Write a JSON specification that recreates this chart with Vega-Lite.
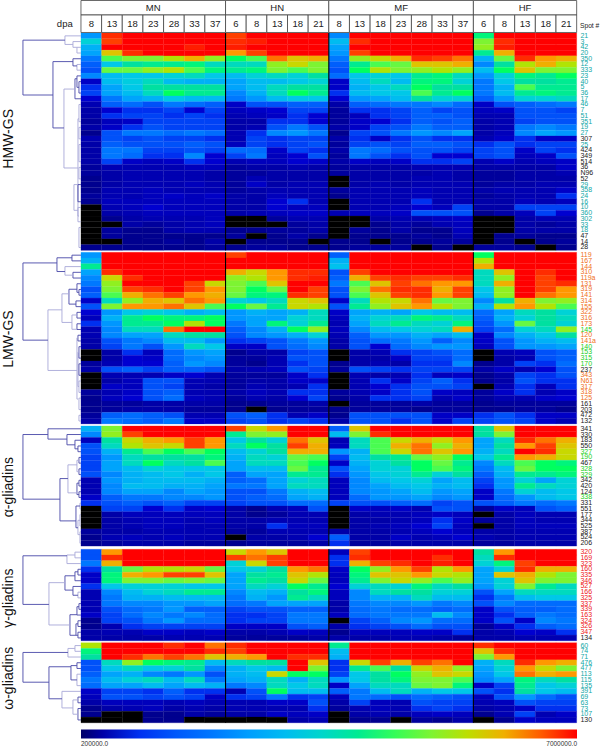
{"$schema":"https://vega.github.io/schema/vega-lite/v6.json","width":600,"height":747,"padding":0,"autosize":{"type":"none"},"background":"white","config":{"view":{"stroke":null},"text":{"font":"Liberation Sans"},"legend":{"labelFont":"Liberation Sans"}},
"datasets":{"cells":[
{"g":0,"s":"21","k":"t","v":[24,68,70,70,70,70,70,66,70,70,70,70,22,70,70,70,70,70,70,42,70,70,70,70]},
{"g":0,"s":"3","k":"t","v":[34,66,70,70,70,70,70,68,69,70,70,70,30,68,70,70,70,70,70,50,68,70,70,70]},
{"g":0,"s":"42","k":"t","v":[28,70,70,70,70,69,70,69,70,70,70,70,26,70,70,70,70,70,70,52,69,70,70,70]},
{"g":0,"s":"20","k":"t","v":[26,58,68,70,70,70,70,62,66,70,70,70,24,66,70,70,70,70,70,40,60,70,70,70]},
{"g":0,"s":"350","k":"t","v":[20,46,50,50,54,60,52,44,46,64,58,60,20,52,56,60,68,66,64,28,48,68,62,60]},
{"g":0,"s":"12","k":"t","v":[16,32,38,40,40,42,36,36,36,52,56,50,16,40,46,48,58,58,60,22,38,54,60,54]},
{"g":0,"s":"333","k":"t","v":[14,48,48,52,54,46,42,40,42,50,46,50,14,44,54,50,52,54,52,30,44,58,50,50]},
{"g":0,"s":"23","k":"t","v":[22,30,32,32,34,36,32,30,34,36,34,38,18,32,34,32,40,42,36,24,34,42,40,44]},
{"g":0,"s":"40","k":"t","v":[8,30,33,36,30,28,28,26,30,30,32,34,8,30,36,30,42,42,34,20,32,38,38,40]},
{"g":0,"s":"5","k":"t","v":[10,26,32,38,38,38,38,26,30,36,38,38,8,28,32,36,44,38,38,20,28,46,40,40]},
{"g":0,"s":"36","k":"t","v":[12,26,30,36,44,40,40,22,28,36,44,40,10,30,32,32,46,40,44,20,30,40,42,40]},
{"g":0,"s":"17","k":"t","v":[9,20,26,28,32,30,30,20,24,30,32,32,9,24,26,30,38,34,34,16,24,34,34,36]},
{"g":0,"s":"46","k":"t","v":[6,16,18,14,20,18,16,8,14,14,16,16,5,16,18,20,20,22,18,8,14,16,18,20]},
{"g":0,"s":"7","k":"t","v":[5,9,10,10,12,9,12,7,8,9,12,12,4,10,10,12,16,12,14,7,8,14,14,12]},
{"g":0,"s":"51","k":"t","v":[5,10,12,12,10,12,10,6,7,8,10,9,4,7,10,12,16,16,14,6,6,14,14,14]},
{"g":0,"s":"351","k":"t","v":[4,7,8,12,12,12,12,5,5,10,10,9,4,8,9,10,16,14,16,5,6,12,14,14]},
{"g":0,"s":"19","k":"t","v":[5,8,10,14,12,12,12,5,6,14,20,14,5,8,12,14,20,16,16,5,6,20,22,20]},
{"g":0,"s":"27","k":"t","v":[3,14,20,20,18,20,18,6,10,22,24,20,3,12,14,20,24,22,26,5,7,22,26,24]},
{"g":0,"s":"307","k":"k","v":[6,14,12,14,12,12,10,6,12,10,12,12,5,10,8,10,14,10,10,6,8,10,8,8]},
{"g":0,"s":"25","k":"t","v":[5,16,14,14,14,16,14,7,12,10,12,14,4,12,14,12,16,16,14,10,14,10,12,12]},
{"g":0,"s":"424","k":"k","v":[5,20,20,12,12,14,12,18,18,8,12,10,5,20,18,14,14,14,12,12,14,8,12,10]},
{"g":0,"s":"349","k":"k","v":[5,20,18,10,10,22,9,12,20,7,9,14,4,20,14,10,14,9,9,12,14,7,8,14]},
{"g":0,"s":"514","k":"k","v":[5,12,8,7,8,10,9,6,7,7,9,8,5,8,7,8,10,10,12,6,8,6,7,8]},
{"g":0,"s":"36","k":"k","v":[4,6,6,6,6,7,7,4,5,5,6,5,4,5,5,5,6,6,6,5,5,5,5,8]},
{"g":0,"s":"N96","k":"k","v":[4,5,6,6,6,6,5,4,4,5,5,5,4,5,5,5,5,6,5,4,4,5,5,6]},
{"g":0,"s":"52","k":"k","v":[3,5,6,6,6,6,5,4,6,5,5,5,2,5,5,5,6,6,5,4,4,5,5,5]},
{"g":0,"s":"29","k":"t","v":[3,5,6,6,6,7,6,4,8,5,6,6,2,5,6,5,6,6,6,4,5,5,6,6]},
{"g":0,"s":"358","k":"t","v":[3,6,6,7,6,6,6,4,5,6,6,6,4,6,6,6,7,6,6,5,6,6,6,8]},
{"g":0,"s":"24","k":"t","v":[4,6,6,7,8,7,8,5,5,7,6,6,3,6,6,6,7,6,6,4,5,6,6,10]},
{"g":0,"s":"16","k":"t","v":[3,7,7,7,7,7,7,5,5,9,10,6,2,6,6,6,10,6,6,5,5,7,6,7]},
{"g":0,"s":"10","k":"t","v":[2,6,7,9,7,7,7,5,5,9,7,7,2,6,6,7,9,7,12,5,5,12,12,12]},
{"g":0,"s":"360","k":"t","v":[2,5,6,7,7,7,7,5,6,7,8,8,6,7,7,8,14,14,14,3,5,7,12,9]},
{"g":0,"s":"302","k":"t","v":[2,3,5,6,6,6,7,2,2,4,6,6,2,2,5,6,6,7,8,2,2,5,6,6]},
{"g":0,"s":"33","k":"t","v":[2,2,5,4,5,6,7,2,2,2,4,5,2,2,3,5,4,6,7,2,2,5,4,5]},
{"g":0,"s":"18","k":"t","v":[2,4,3,3,5,6,6,3,3,4,4,5,2,4,3,5,3,3,7,2,2,5,5,5]},
{"g":0,"s":"47","k":"k","v":[2,4,3,3,3,3,3,4,2,3,5,3,2,3,3,3,4,3,6,2,3,4,3,3]},
{"g":0,"s":"14","k":"k","v":[2,2,3,3,4,3,5,2,3,3,3,2,3,3,2,3,3,4,4,2,3,2,3,4]},
{"g":0,"s":"28","k":"k","v":[3,3,3,3,3,3,4,3,4,4,3,3,3,4,4,4,2,3,2,4,4,3,2,3]},
{"g":1,"s":"119","k":"o","v":[24,70,70,70,70,70,70,66,70,70,70,70,16,70,70,70,70,70,70,44,70,70,70,70]},
{"g":1,"s":"167","k":"o","v":[28,70,70,70,70,70,70,70,70,70,70,70,28,70,70,70,70,70,70,54,70,70,70,70]},
{"g":1,"s":"144","k":"o","v":[40,70,70,70,70,70,70,70,70,70,70,70,31,70,70,70,70,70,70,60,70,70,70,70]},
{"g":1,"s":"310","k":"o","v":[26,68,70,70,70,70,70,60,56,62,68,68,14,66,70,70,70,70,70,36,58,70,68,70]},
{"g":1,"s":"119a","k":"o","v":[22,56,68,70,70,70,70,52,54,62,68,69,16,60,66,68,66,66,68,36,52,70,66,70]},
{"g":1,"s":"131","k":"o","v":[20,52,70,70,70,66,56,50,46,58,70,70,20,46,58,66,64,62,62,36,60,70,66,68]},
{"g":1,"s":"319","k":"o","v":[14,50,66,68,70,66,62,50,44,48,70,66,14,50,64,68,68,60,66,32,52,70,66,62]},
{"g":1,"s":"141","k":"o","v":[16,46,60,64,66,62,60,48,42,42,68,66,14,46,58,66,68,62,66,30,52,70,64,62]},
{"g":1,"s":"314","k":"o","v":[8,36,52,60,58,64,62,34,32,36,56,58,8,36,54,56,64,48,50,22,38,60,50,52]},
{"g":1,"s":"155","k":"o","v":[14,50,62,62,64,58,46,44,48,40,56,54,14,40,52,58,62,54,50,28,54,62,54,46]},
{"g":1,"s":"322","k":"o","v":[9,24,32,34,32,28,30,24,28,26,28,36,8,26,28,26,32,30,30,18,26,36,38,34]},
{"g":1,"s":"316","k":"o","v":[7,28,40,44,42,42,44,24,26,26,34,36,7,28,34,36,42,40,36,16,28,34,38,36]},
{"g":1,"s":"173","k":"o","v":[10,24,40,40,44,54,44,20,26,42,34,40,6,26,36,40,36,34,42,14,24,48,38,34]},
{"g":1,"s":"145","k":"g","v":[6,22,36,36,64,70,70,16,22,28,44,52,7,22,30,32,34,36,60,12,18,34,36,52]},
{"g":1,"s":"120","k":"o","v":[6,22,26,26,36,38,38,14,22,24,28,34,6,16,24,24,28,26,30,8,22,28,32,38]},
{"g":1,"s":"141a","k":"o","v":[5,14,20,22,30,30,24,10,12,14,20,24,5,14,18,20,24,16,22,8,14,24,28,30]},
{"g":1,"s":"140","k":"g","v":[5,12,20,14,24,36,32,8,8,14,18,22,5,14,9,18,22,24,24,7,14,24,24,26]},
{"g":1,"s":"153","k":"g","v":[2,5,10,7,18,24,26,3,5,5,12,14,2,5,6,10,12,14,18,2,6,7,14,16]},
{"g":1,"s":"315","k":"g","v":[2,5,9,8,18,22,24,4,4,6,14,14,2,5,5,8,12,12,18,2,5,6,14,16]},
{"g":1,"s":"170","k":"g","v":[4,6,9,9,16,24,22,4,3,6,10,14,3,5,6,5,10,10,22,3,5,12,10,18]},
{"g":1,"s":"237","k":"k","v":[5,14,16,12,16,16,14,5,6,7,14,12,4,14,12,10,12,12,12,5,8,6,9,14]},
{"g":1,"s":"343","k":"o","v":[2,6,6,6,8,9,6,4,4,4,8,10,2,6,5,6,10,7,8,3,5,12,10,14]},
{"g":1,"s":"N61","k":"o","v":[2,5,7,14,14,6,6,4,5,5,8,8,2,6,10,8,12,16,10,3,5,14,10,10]},
{"g":1,"s":"317","k":"o","v":[2,8,7,14,12,6,5,4,6,5,6,10,2,6,9,10,14,14,12,2,6,10,7,10]},
{"g":1,"s":"318","k":"o","v":[4,6,8,14,16,6,6,5,7,6,10,10,4,6,8,10,14,8,7,4,8,10,6,8]},
{"g":1,"s":"125","k":"o","v":[3,7,9,14,18,7,6,4,6,5,9,12,3,5,10,10,12,6,8,4,6,6,8,9]},
{"g":1,"s":"161","k":"k","v":[3,4,4,5,5,5,5,3,3,4,4,5,2,4,4,4,5,4,4,3,4,4,4,4]},
{"g":1,"s":"203","k":"k","v":[3,4,5,5,5,4,4,3,2,3,4,4,3,4,4,4,3,4,4,3,3,4,4,3]},
{"g":1,"s":"472","k":"k","v":[4,16,18,16,14,6,6,14,16,10,6,8,3,14,14,14,14,8,8,10,14,10,8,8]},
{"g":1,"s":"132","k":"k","v":[5,20,18,16,20,8,8,12,14,10,12,10,5,14,14,10,14,8,12,12,14,12,8,6]},
{"g":2,"s":"341","k":"k","v":[28,50,70,70,70,70,70,66,56,62,70,70,16,58,70,70,70,70,70,38,58,70,70,70]},
{"g":2,"s":"330","k":"k","v":[22,52,66,70,70,70,70,40,50,52,70,70,30,50,68,70,70,70,70,38,50,70,70,70]},
{"g":2,"s":"183","k":"k","v":[7,38,56,60,62,66,62,32,38,34,64,58,6,36,46,56,60,56,62,26,36,68,64,60]},
{"g":2,"s":"550","k":"k","v":[14,36,54,58,56,66,62,36,44,38,66,60,7,36,46,60,64,52,60,26,38,62,66,58]},
{"g":2,"s":"327","k":"g","v":[14,28,40,46,44,46,44,30,34,38,60,60,24,28,46,56,64,58,62,28,36,70,68,56]},
{"g":2,"s":"190","k":"g","v":[12,24,36,38,38,38,42,28,36,34,48,46,12,30,38,40,48,52,44,32,40,62,60,56]},
{"g":2,"s":"467","k":"k","v":[12,26,36,44,36,38,46,26,36,36,46,44,8,28,34,38,44,48,40,22,36,46,44,42]},
{"g":2,"s":"328","k":"g","v":[12,26,30,34,32,32,32,26,30,30,48,40,14,26,34,34,44,46,42,20,30,48,44,44]},
{"g":2,"s":"329","k":"g","v":[14,22,28,30,32,28,32,16,26,26,40,40,10,24,32,34,40,34,38,16,28,40,40,42]},
{"g":2,"s":"342","k":"k","v":[6,24,28,30,30,30,28,16,18,26,34,36,7,22,30,32,34,26,30,12,24,34,26,34]},
{"g":2,"s":"420","k":"k","v":[6,22,30,30,28,28,26,20,20,26,36,36,7,22,26,30,32,28,30,10,24,40,36,34]},
{"g":2,"s":"124","k":"k","v":[6,22,26,26,22,26,24,14,14,20,28,30,7,22,24,26,30,24,26,8,20,34,30,32]},
{"g":2,"s":"338","k":"g","v":[8,16,20,20,22,22,24,14,16,18,26,28,7,18,24,24,26,22,24,8,18,24,30,32]},
{"g":2,"s":"331","k":"k","v":[10,14,16,14,16,12,12,12,14,14,18,18,12,14,14,16,18,12,14,14,16,20,18,20]},
{"g":2,"s":"551","k":"k","v":[2,12,12,9,10,8,9,5,3,6,7,14,2,8,7,8,6,14,14,4,8,7,14,16]},
{"g":2,"s":"177","k":"k","v":[2,5,7,7,7,7,7,5,3,4,6,6,2,5,6,6,7,8,7,2,5,7,6,6]},
{"g":2,"s":"344","k":"k","v":[2,5,6,7,7,6,7,5,5,6,6,6,2,5,5,6,7,10,8,4,5,7,6,6]},
{"g":2,"s":"525","k":"k","v":[2,5,6,7,7,6,6,5,5,10,7,7,2,5,6,7,9,12,7,2,5,7,7,7]},
{"g":2,"s":"387","k":"k","v":[4,5,5,6,6,6,6,4,4,6,6,6,5,5,5,6,7,9,7,5,5,6,6,6]},
{"g":2,"s":"524","k":"k","v":[3,6,7,6,7,6,6,2,5,5,6,9,16,5,5,8,6,7,9,6,5,6,6,6]},
{"g":2,"s":"206","k":"k","v":[3,4,5,5,5,4,4,3,4,4,4,5,10,4,4,5,5,5,5,4,4,5,5,5]},
{"g":3,"s":"320","k":"r","v":[14,62,70,70,70,70,70,56,62,58,70,70,7,66,70,70,70,70,70,38,62,70,70,70]},
{"g":3,"s":"169","k":"r","v":[14,68,70,70,70,70,70,66,64,66,70,70,10,68,70,70,70,68,70,36,68,70,70,70]},
{"g":3,"s":"323","k":"r","v":[20,60,70,70,70,70,70,34,56,66,70,70,10,60,66,68,70,69,70,34,42,66,70,70]},
{"g":3,"s":"160","k":"r","v":[10,38,48,54,54,56,48,32,34,38,62,64,8,44,52,62,66,54,62,26,34,68,60,60]},
{"g":3,"s":"335","k":"r","v":[8,42,60,62,66,66,58,26,38,40,58,54,7,42,58,58,62,56,54,26,58,60,54,50]},
{"g":3,"s":"346","k":"r","v":[8,42,50,50,48,50,48,26,40,38,56,48,7,40,50,56,52,46,52,26,34,58,50,50]},
{"g":3,"s":"527","k":"r","v":[10,32,34,34,34,32,32,26,36,34,44,40,9,34,36,34,42,36,38,24,34,50,40,36]},
{"g":3,"s":"166","k":"r","v":[6,22,30,34,36,40,40,22,30,28,38,42,7,22,36,38,38,34,34,14,26,36,36,36]},
{"g":3,"s":"325","k":"r","v":[6,20,28,28,30,30,30,20,28,24,40,36,7,22,28,28,36,30,30,10,20,30,32,32]},
{"g":3,"s":"337","k":"r","v":[6,20,22,22,24,24,26,18,20,26,26,26,5,20,22,22,24,20,22,14,22,18,18,18]},
{"g":3,"s":"339","k":"r","v":[6,14,18,20,24,16,16,12,14,14,16,16,5,18,20,18,18,16,18,8,14,16,16,18]},
{"g":3,"s":"163","k":"r","v":[8,12,18,22,20,22,18,10,10,12,20,20,7,18,20,20,20,30,22,8,10,16,20,18]},
{"g":3,"s":"324","k":"r","v":[3,12,14,20,24,18,18,10,12,12,20,20,2,12,16,22,24,18,18,8,14,8,22,20]},
{"g":3,"s":"326","k":"r","v":[3,6,10,12,12,12,12,8,8,8,14,16,5,10,12,14,18,14,14,4,8,10,16,18]},
{"g":3,"s":"347","k":"r","v":[5,6,6,8,8,7,8,5,5,6,8,7,3,7,7,7,8,8,10,5,6,9,8,10]},
{"g":3,"s":"134","k":"k","v":[5,5,5,5,6,6,6,4,4,4,4,5,5,5,5,6,6,5,4,5,5,6,6,6]},
{"g":4,"s":"60","k":"t","v":[54,70,70,70,68,70,64,68,70,70,70,70,40,70,70,70,70,70,70,68,70,70,70,70]},
{"g":4,"s":"74","k":"t","v":[42,70,70,70,70,70,68,66,70,70,70,70,30,70,70,70,70,70,70,58,68,70,70,70]},
{"g":4,"s":"71","k":"t","v":[38,70,68,64,66,64,58,60,62,70,68,68,28,70,70,70,70,70,70,50,62,70,70,70]},
{"g":4,"s":"476","k":"t","v":[14,36,52,44,42,40,30,36,38,38,70,58,10,56,66,60,66,64,70,28,36,68,62,60]},
{"g":4,"s":"477","k":"t","v":[14,32,36,32,34,38,22,28,32,30,70,50,10,40,46,38,56,60,52,26,34,62,56,50]},
{"g":4,"s":"113","k":"t","v":[16,26,28,22,20,24,14,28,30,56,44,44,12,32,38,44,52,58,56,24,32,64,60,62]},
{"g":4,"s":"115","k":"t","v":[20,30,34,36,30,36,20,26,28,36,28,36,24,32,38,42,50,50,46,22,26,42,36,38]},
{"g":4,"s":"135","k":"t","v":[18,26,26,30,26,30,28,20,22,36,32,36,8,26,36,36,48,50,42,8,12,40,32,34]},
{"g":4,"s":"391","k":"t","v":[8,12,12,10,16,10,10,6,14,44,30,30,16,20,30,36,28,32,32,14,10,38,32,30]},
{"g":4,"s":"69","k":"t","v":[7,14,14,12,14,12,8,10,12,20,10,12,7,20,18,14,18,16,14,7,14,24,18,14]},
{"g":4,"s":"63","k":"t","v":[5,7,7,7,6,7,6,6,6,8,8,14,5,12,7,6,14,12,12,6,7,14,12,12]},
{"g":4,"s":"73","k":"t","v":[3,5,6,7,5,6,5,6,6,6,6,10,4,6,7,6,10,12,10,5,6,8,10,10]},
{"g":4,"s":"107","k":"t","v":[3,2,2,3,3,5,4,5,5,8,7,8,2,5,6,5,7,8,7,3,6,12,6,8]},
{"g":4,"s":"130","k":"k","v":[2,2,2,3,3,2,2,2,2,2,5,6,2,3,3,2,4,3,5,2,3,8,7,7]}
],
"tree":[
{"h":58,"y1":1.25,"y2":10.84,"a":16,"b":28,"d":"a"},{"h":16,"y1":0.5,"y2":2,"a":0,"b":8,"d":"b"},{"h":8,"y1":1.5,"y2":2.5,"a":0,"b":4,"d":"b"},{"h":4,"y1":2.5,"y2":3.5,"a":0,"b":0,"d":"b"},
{"h":28,"y1":5,"y2":16.6,"a":8,"b":17,"d":"a"},{"h":8,"y1":4.5,"y2":5.75,"a":0,"b":4,"d":"a"},{"h":4,"y1":5.5,"y2":6.5,"a":0,"b":0,"d":"b"},
{"h":17,"y1":9.8,"y2":23.6,"a":6,"b":3,"d":"b"},{"h":6,"y1":8,"y2":11.5,"a":4,"b":0,"d":"a"},{"h":4,"y1":7.5,"y2":9.5,"a":0,"b":2,"d":"a"},{"h":2,"y1":8.5,"y2":10.5,"a":0,"b":0,"d":"a"},
{"h":3,"y1":15,"y2":32,"a":2,"b":2,"d":"b"},{"h":2,"y1":12.5,"y2":15.5,"a":0,"b":0,"d":"b"},{"h":2,"y1":16.5,"y2":18.5,"a":0,"b":0,"d":"b"},{"h":2,"y1":19.5,"y2":22.5,"a":0,"b":0,"d":"b"},{"h":2,"y1":23.5,"y2":25.5,"a":0,"b":0,"d":"b"},{"h":7,"y1":26.5,"y2":31,"a":3,"b":3,"d":"b"},{"h":3,"y1":26.5,"y2":29.5,"a":0,"b":0,"d":"a"},{"h":3,"y1":30.5,"y2":33,"a":0,"b":0,"d":"b"},{"h":2,"y1":34,"y2":37.5,"a":0,"b":0,"d":"b"},
{"h":58,"y1":40.2,"y2":53.7,"a":24,"b":33,"d":"a"},{"h":24,"y1":39.3,"y2":41.7,"a":9,"b":16,"d":"a"},{"h":9,"y1":38.84,"y2":39.84,"a":0,"b":0,"d":"a"},{"h":16,"y1":40.84,"y2":42.34,"a":0,"b":8,"d":"b"},{"h":8,"y1":41.84,"y2":42.84,"a":0,"b":0,"d":"a"},
{"h":33,"y1":48.4,"y2":59,"a":19,"b":4,"d":"b"},{"h":19,"y1":45.6,"y2":50.6,"a":12,"b":9,"d":"b"},{"h":12,"y1":44.8,"y2":47.4,"a":4,"b":5,"d":"a"},{"h":4,"y1":43.84,"y2":45.34,"a":0,"b":2,"d":"a"},{"h":2,"y1":44.84,"y2":45.84,"a":0,"b":0,"d":"a"},{"h":5,"y1":46.84,"y2":47.84,"a":0,"b":0,"d":"a"},{"h":9,"y1":49.3,"y2":51.8,"a":4,"b":4,"d":"b"},{"h":4,"y1":48.84,"y2":49.84,"a":0,"b":0,"d":"a"},{"h":4,"y1":50.84,"y2":51.84,"a":0,"b":0,"d":"a"},
{"h":4,"y1":53.3,"y2":64,"a":3,"b":3,"d":"b"},{"h":3,"y1":52.84,"y2":53.84,"a":0,"b":0,"d":"a"},{"h":3,"y1":55.8,"y2":61.8,"a":2,"b":2,"d":"b"},{"h":2,"y1":54.84,"y2":56.84,"a":0,"b":0,"d":"a"},{"h":2,"y1":57.84,"y2":59.84,"a":0,"b":0,"d":"a"},{"h":2,"y1":60.84,"y2":62.84,"a":0,"b":0,"d":"b"},{"h":2,"y1":63.84,"y2":65.84,"a":0,"b":0,"d":"b"},{"h":2,"y1":66.84,"y2":67.84,"a":0,"b":0,"d":"b"},
{"h":58,"y1":70.2,"y2":81.5,"a":33,"b":21,"d":"a"},{"h":33,"y1":69.2,"y2":71,"a":0,"b":14,"d":"a"},{"h":14,"y1":70.2,"y2":72,"a":0,"b":6,"d":"a"},{"h":6,"y1":71.2,"y2":72.7,"a":0,"b":3,"d":"a"},{"h":3,"y1":72.2,"y2":73.2,"a":0,"b":0,"d":"a"},
{"h":21,"y1":77.9,"y2":85.3,"a":13,"b":5,"d":"a"},{"h":13,"y1":75.5,"y2":80.4,"a":4,"b":4,"d":"b"},{"h":4,"y1":74.7,"y2":76.7,"a":2,"b":2,"d":"b"},{"h":2,"y1":74.2,"y2":75.2,"a":0,"b":0,"d":"a"},{"h":2,"y1":76.2,"y2":77.2,"a":0,"b":0,"d":"a"},{"h":4,"y1":78.7,"y2":80.7,"a":2,"b":2,"d":"a"},{"h":2,"y1":78.2,"y2":79.2,"a":0,"b":0,"d":"a"},{"h":2,"y1":80.2,"y2":81.2,"a":0,"b":0,"d":"a"},
{"h":5,"y1":82.7,"y2":86.5,"a":1,"b":3,"d":"a"},{"h":1,"y1":82.2,"y2":83.2,"a":0,"b":0,"d":"b"},{"h":3,"y1":85.2,"y2":87.7,"a":1,"b":1,"d":"b"},{"h":1,"y1":84.2,"y2":86.2,"a":0,"b":0,"d":"b"},{"h":1,"y1":87.2,"y2":89.2,"a":0,"b":0,"d":"b"},
{"h":58,"y1":91.4,"y2":99.9,"a":14,"b":32,"d":"a"},{"h":14,"y1":91.26,"y2":92.76,"a":6,"b":0,"d":"b"},{"h":6,"y1":90.76,"y2":91.76,"a":0,"b":0,"d":"b"},{"h":32,"y1":96.1,"y2":103.5,"a":16,"b":11,"d":"b"},{"h":16,"y1":94.9,"y2":97.4,"a":6,"b":8,"d":"a"},{"h":6,"y1":94.2,"y2":95.76,"a":3,"b":0,"d":"a"},{"h":3,"y1":93.76,"y2":94.76,"a":0,"b":0,"d":"a"},{"h":8,"y1":96.76,"y2":98.3,"a":0,"b":3,"d":"a"},{"h":3,"y1":97.76,"y2":98.76,"a":0,"b":0,"d":"b"},
{"h":11,"y1":101.7,"y2":105.3,"a":4,"b":5,"d":"a"},{"h":4,"y1":100.3,"y2":101.76,"a":2,"b":0,"d":"a"},{"h":2,"y1":99.76,"y2":100.76,"a":0,"b":0,"d":"a"},{"h":5,"y1":103.3,"y2":105.3,"a":3,"b":3,"d":"a"},{"h":3,"y1":102.76,"y2":103.76,"a":0,"b":0,"d":"a"},{"h":3,"y1":104.76,"y2":105.76,"a":0,"b":0,"d":"a"},
{"h":58,"y1":108.3,"y2":113.5,"a":13,"b":32,"d":"a"},{"h":13,"y1":107.6,"y2":109.1,"a":6,"b":0,"d":"b"},{"h":6,"y1":107.1,"y2":108.1,"a":0,"b":0,"d":"b"},{"h":32,"y1":110.8,"y2":116.4,"a":10,"b":19,"d":"a"},{"h":10,"y1":110.6,"y2":113.1,"a":4,"b":4,"d":"a"},{"h":4,"y1":110.1,"y2":111.1,"a":0,"b":0,"d":"a"},{"h":4,"y1":112.1,"y2":114.1,"a":0,"b":0,"d":"b"},{"h":19,"y1":115.1,"y2":118,"a":0,"b":8,"d":"b"},{"h":8,"y1":116.6,"y2":119.1,"a":3,"b":3,"d":"b"},{"h":3,"y1":116.1,"y2":117.1,"a":0,"b":0,"d":"a"},{"h":3,"y1":118.1,"y2":120.1,"a":0,"b":0,"d":"a"}
],
"hdr":[
{"t":"MN","a":0,"b":7,"r":0},{"t":"HN","a":7,"b":12,"r":0},{"t":"MF","a":12,"b":19,"r":0},{"t":"HF","a":19,"b":24,"r":0},
{"t":"8","a":0,"b":1,"r":1},{"t":"13","a":1,"b":2,"r":1},{"t":"18","a":2,"b":3,"r":1},{"t":"23","a":3,"b":4,"r":1},{"t":"28","a":4,"b":5,"r":1},{"t":"33","a":5,"b":6,"r":1},{"t":"37","a":6,"b":7,"r":1},
{"t":"6","a":7,"b":8,"r":1},{"t":"8","a":8,"b":9,"r":1},{"t":"13","a":9,"b":10,"r":1},{"t":"18","a":10,"b":11,"r":1},{"t":"21","a":11,"b":12,"r":1},
{"t":"8","a":12,"b":13,"r":1},{"t":"13","a":13,"b":14,"r":1},{"t":"18","a":14,"b":15,"r":1},{"t":"23","a":15,"b":16,"r":1},{"t":"28","a":16,"b":17,"r":1},{"t":"33","a":17,"b":18,"r":1},{"t":"37","a":18,"b":19,"r":1},
{"t":"6","a":19,"b":20,"r":1},{"t":"8","a":20,"b":21,"r":1},{"t":"13","a":21,"b":22,"r":1},{"t":"18","a":22,"b":23,"r":1},{"t":"21","a":23,"b":24,"r":1}
],
"sep":[
{"c":7,"y":0,"y2":38},{"c":12,"y":0,"y2":38},{"c":19,"y":0,"y2":38},
{"c":7,"y":38.34,"y2":68.34},{"c":12,"y":38.34,"y2":68.34},{"c":19,"y":38.34,"y2":68.34},
{"c":7,"y":68.7,"y2":89.7},{"c":12,"y":68.7,"y2":89.7},{"c":19,"y":68.7,"y2":89.7},
{"c":7,"y":90.26,"y2":106.26},{"c":12,"y":90.26,"y2":106.26},{"c":19,"y":90.26,"y2":106.26},
{"c":7,"y":106.6,"y2":120.6},{"c":12,"y":106.6,"y2":120.6},{"c":19,"y":106.6,"y2":120.6}
],
"titles":[{"t":"HMW-GS","y":18.5},{"t":"LMW-GS","y":53.5},{"t":"α-gliadins","y":79.4},{"t":"γ-gliadins","y":98.8},{"t":"ω-gliadins","y":112.8}],
"notes":[{"t":"dpa","x":-0.4,"y":-1.5,"al":"right"},{"t":"Spot #","x":24.16,"y":-1.2,"al":"left"}]
},
"layer":[
{"data":{"name":"cells"},
"transform":[{"window":[{"op":"row_number","as":"i"}]},{"calculate":"datum.i-1+[0,0.34,0.7,1.26,1.6][datum.g]","as":"y"},{"calculate":"datum.y+1","as":"y2"},{"flatten":["v"]},{"window":[{"op":"row_number","as":"c"}],"groupby":["i"]},{"calculate":"datum.c-1","as":"x"}],
"mark":{"type":"rect","strokeWidth":0.25},
"encoding":{
"x":{"field":"x","type":"quantitative","scale":{"domain":[-3.92,25.13],"nice":false,"zero":false},"axis":null},
"x2":{"field":"c"},
"y":{"field":"y","type":"quantitative","scale":{"domain":[-5.77,124.83],"reverse":true,"nice":false,"zero":false},"axis":null},
"y2":{"field":"y2"},
"color":{"condition":{"test":"datum.v<=2","value":"#000000"},"field":"v","type":"quantitative","scale":{"type":"linear","domain":[2,2.4,5,9,10,20,30,38,44,52,56,62,66,70],"range":["#000000","#000088","#0000a8","#0000d0","#0030f0","#0078ff","#00bcf0","#00e0a0","#00ff60","#90f020","#c8d800","#ff9800","#ff4000","#ff0000"]},
"legend":{"orient":"none","legendX":81,"legendY":729.5,"direction":"horizontal","gradientLength":496,"gradientThickness":9,"title":null,"values":[2,70],"labelExpr":"format(datum.value*100000,'.1f')","labelFontSize":6.5,"labelColor":"#333333","tickCount":2,"padding":0,"labelOffset":2}},
"stroke":{"condition":{"test":"datum.v<=2","value":"#000000"},"field":"v","type":"quantitative","legend":null,"scale":{"type":"linear","domain":[2,2.4,5,9,10,20,30,38,44,52,56,62,66,70],"range":["#000000","#000088","#0000a8","#0000d0","#0030f0","#0078ff","#00bcf0","#00e0a0","#00ff60","#90f020","#c8d800","#ff9800","#ff4000","#ff0000"]}}
}},
{"data":{"name":"sep"},"mark":{"type":"rule","color":"#000000","strokeWidth":1.1},"encoding":{"x":{"field":"c","type":"quantitative"},"y":{"field":"y","type":"quantitative"},"y2":{"field":"y2"}}},
{"data":{"name":"hdr"},"transform":[{"calculate":"datum.r==0?-5.68:-3.15","as":"y"},{"calculate":"datum.r==0?-3.15:-0.09","as":"y2"}],"mark":{"type":"rect","fill":"white","stroke":"#444444","strokeWidth":0.8},"encoding":{"x":{"field":"a","type":"quantitative"},"x2":{"field":"b"},"y":{"field":"y","type":"quantitative"},"y2":{"field":"y2"}}},
{"data":{"name":"hdr"},"transform":[{"calculate":"(datum.a+datum.b)/2","as":"m"},{"calculate":"datum.r==0?-4.4:-1.55","as":"y"}],"mark":{"type":"text","fontSize":9.5,"color":"#222222","baseline":"middle","align":"center"},"encoding":{"x":{"field":"m","type":"quantitative"},"y":{"field":"y","type":"quantitative"},"text":{"field":"t"}}},
{"data":{"name":"notes"},"transform":[{"filter":"datum.al=='right'"}],"mark":{"type":"text","fontSize":9.5,"color":"#222222","baseline":"middle","align":"right"},"encoding":{"x":{"field":"x","type":"quantitative"},"y":{"field":"y","type":"quantitative"},"text":{"field":"t"}}},
{"data":{"name":"notes"},"transform":[{"filter":"datum.al=='left'"}],"mark":{"type":"text","fontSize":6.7,"color":"#222222","baseline":"middle","align":"left"},"encoding":{"x":{"field":"x","type":"quantitative"},"y":{"field":"y","type":"quantitative"},"text":{"field":"t"}}},
{"data":{"name":"cells"},
"transform":[{"window":[{"op":"row_number","as":"i"}]},{"calculate":"datum.i-0.5+[0,0.34,0.7,1.26,1.6][datum.g]","as":"y"},{"calculate":"24.18","as":"x"}],
"mark":{"type":"text","fontSize":7,"align":"left","baseline":"middle"},
"encoding":{"x":{"field":"x","type":"quantitative"},"y":{"field":"y","type":"quantitative"},"text":{"field":"s"},"fill":{"field":"k","type":"nominal","legend":null,"scale":{"domain":["t","o","g","r","k"],"range":["#10a8a8","#f07020","#20d020","#ee2020","#222222"]}}}},
{"data":{"name":"titles"},"transform":[{"calculate":"-3.29","as":"x"}],"mark":{"type":"text","fontSize":14,"angle":270,"align":"center","baseline":"alphabetic","color":"#111111"},"encoding":{"x":{"field":"x","type":"quantitative"},"y":{"field":"y","type":"quantitative"},"text":{"field":"t"}}},
{"data":{"name":"tree"},"transform":[{"calculate":"-datum.h/20.65","as":"X"}],"mark":{"type":"rule","strokeWidth":0.9},"encoding":{"x":{"field":"X","type":"quantitative"},"y":{"field":"y1","type":"quantitative"},"y2":{"field":"y2"},"stroke":{"field":"d","type":"nominal","legend":null,"scale":{"domain":["a","b"],"range":["#4848a8","#a8a8d8"]}}}},
{"data":{"name":"tree"},"transform":[{"calculate":"-datum.h/20.65","as":"X"},{"calculate":"-datum.a/20.65","as":"A"}],"mark":{"type":"rule","strokeWidth":0.9},"encoding":{"x":{"field":"X","type":"quantitative"},"x2":{"field":"A"},"y":{"field":"y1","type":"quantitative"},"stroke":{"field":"d","type":"nominal","legend":null,"scale":{"domain":["a","b"],"range":["#4848a8","#a8a8d8"]}}}},
{"data":{"name":"tree"},"transform":[{"calculate":"-datum.h/20.65","as":"X"},{"calculate":"-datum.b/20.65","as":"B"}],"mark":{"type":"rule","strokeWidth":0.9},"encoding":{"x":{"field":"X","type":"quantitative"},"x2":{"field":"B"},"y":{"field":"y2","type":"quantitative"},"stroke":{"field":"d","type":"nominal","legend":null,"scale":{"domain":["a","b"],"range":["#4848a8","#a8a8d8"]}}}}
],
"resolve":{"scale":{"stroke":"independent"}}
}
